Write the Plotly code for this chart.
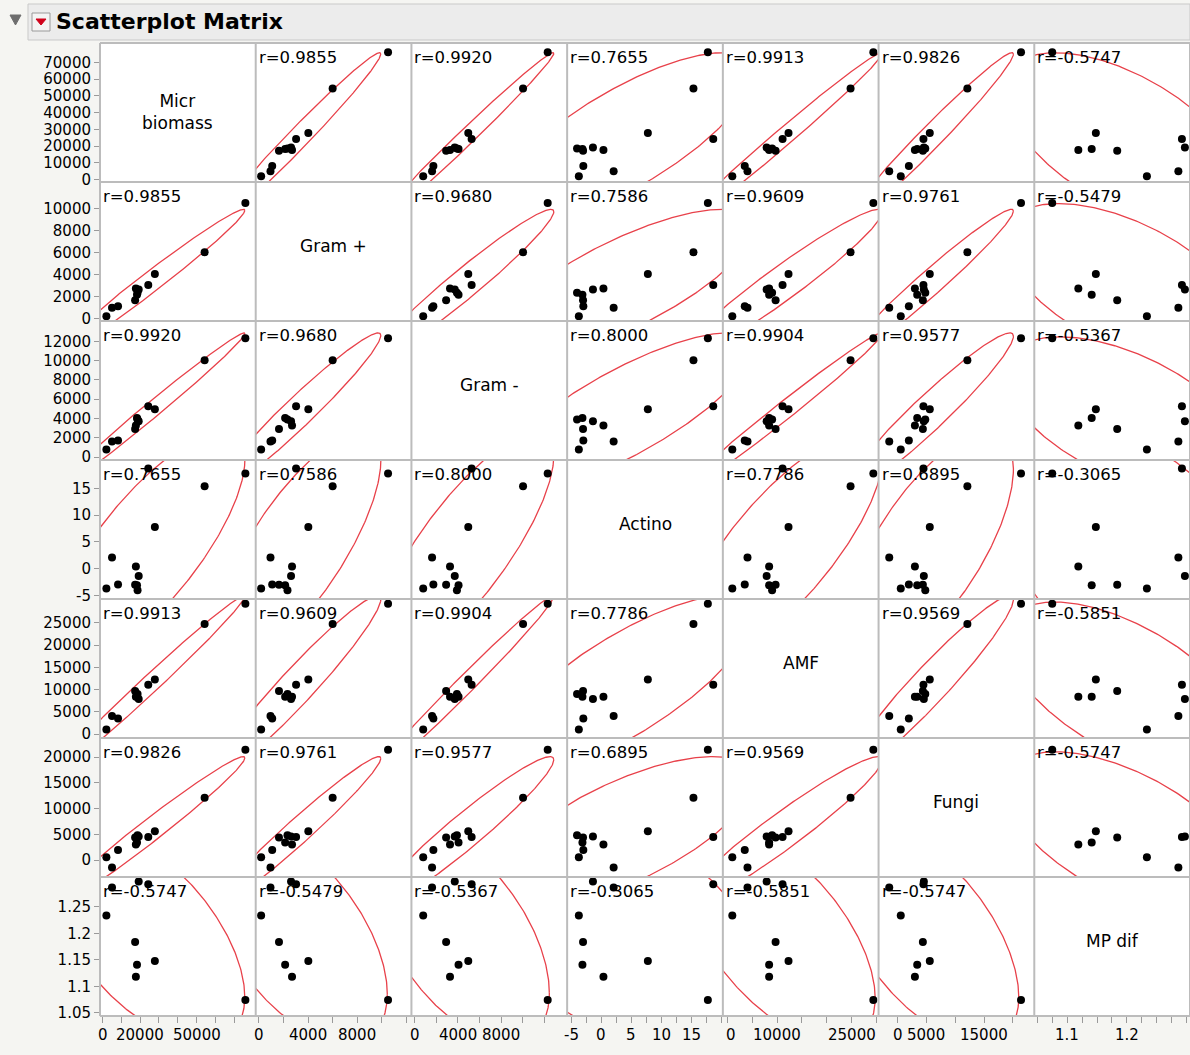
import numpy as np
import plotly.graph_objects as go

# ---- data -------------------------------------------------------------
names = ["Micr biomass", "Gram +", "Gram -", "Actino", "AMF", "Fungi", "MP dif"]

micr_biomass = [2000, 5000, 8200, 17300, 18300, 17700, 18600, 19200, 24300, 27800, 54300, 76000]
gram_pos = [190, 950, 1090, 1640, 2140, 2700, 2330, 2620, 3030, 4025, 6000, 10500]
gram_neg = [780, 1600, 1720, 2900, 4050, 3260, 3900, 3700, 5260, 4950, 10020, 12300]
actino = [-3.7, 2.1, -2.95, -3.0, -3.1, 0.4, -4.0, -1.35, 18.7, 7.8, 15.4, 17.8]
amf = [1000, 4050, 3500, 9700, 8400, 8400, 9000, 7900, 11100, 12300, 24770, 29350]
fungi = [550, -1450, 1950, 4380, 3400, 3000, 4800, 4550, 4480, 5580, 12100, 21400]
mp_dif = [1.234, 1.287, None, 1.184, 1.141, 1.1185, None, 1.298, 1.293, 1.148, None, 1.0745]

# pairwise correlations (upper triangle, variable index pairs)
correlations = {
    (0, 1): 0.9855, (0, 2): 0.9920, (0, 3): 0.7655, (0, 4): 0.9913, (0, 5): 0.9826, (0, 6): -0.5747,
    (1, 2): 0.9680, (1, 3): 0.7586, (1, 4): 0.9609, (1, 5): 0.9761, (1, 6): -0.5479,
    (2, 3): 0.8000, (2, 4): 0.9904, (2, 5): 0.9577, (2, 6): -0.5367,
    (3, 4): 0.7786, (3, 5): 0.6895, (3, 6): -0.3065,
    (4, 5): 0.9569, (4, 6): -0.5851,
    (5, 6): -0.5747,
}

# ---- axis configuration -------------------------------------------------
ranges = [
    [-1400, 81500],
    [-250, 12400],
    [-310, 14100],
    [-5.65, 20.3],
    [-900, 30400],
    [-3300, 23700],
    [1.0443, 1.3066],
]

y_ticks = [
    [0, 10000, 20000, 30000, 40000, 50000, 60000, 70000],
    [0, 2000, 4000, 6000, 8000, 10000],
    [0, 2000, 4000, 6000, 8000, 10000, 12000],
    [-5, 0, 5, 10, 15],
    [0, 5000, 10000, 15000, 20000, 25000],
    [0, 5000, 10000, 15000, 20000],
    [1.05, 1.1, 1.15, 1.2, 1.25],
]
y_ticktext = [
    [str(v) for v in y_ticks[0]],
    [str(v) for v in y_ticks[1]],
    [str(v) for v in y_ticks[2]],
    [str(v) for v in y_ticks[3]],
    [str(v) for v in y_ticks[4]],
    [str(v) for v in y_ticks[5]],
    ["1.05", "1.1", "1.15", "1.2", "1.25"],
]

x_ticks = [
    [0, 10000, 20000, 30000, 40000, 50000, 60000, 70000],
    [0, 2000, 4000, 6000, 8000, 10000, 12000],
    [0, 2000, 4000, 6000, 8000, 10000, 12000],
    [-5, -2.5, 0, 2.5, 5, 7.5, 10, 12.5, 15, 17.5, 20],
    [0, 5000, 10000, 15000, 20000, 25000, 30000],
    [0, 5000, 10000, 15000, 20000],
    [1.05, 1.075, 1.1, 1.125, 1.15, 1.175, 1.2, 1.225, 1.25, 1.275, 1.3],
]
x_labelled = [
    [(0, "0"), (20000, "20000"), (50000, "50000")],
    [(0, "0"), (4000, "4000"), (8000, "8000")],
    [(0, "0"), (4000, "4000"), (8000, "8000")],
    [(-5, "-5"), (0, "0"), (5, "5"), (10, "10"), (15, "15")],
    [(0, "0"), (10000, "10000"), (25000, "25000")],
    [(0, "0"), (5000, "5000"), (15000, "15000")],
    [(1.1, "1.1"), (1.2, "1.2")],
]

# ---- figure geometry (pixels) -------------------------------------------
W, H = 1190, 1055
ML, MR, MT, MB = 100, 0, 43, 39
PW, PH = W - ML - MR, H - MT - MB
NV = len(names)

FONT = "DejaVu Sans"
POINT_COLOR = "black"
ELLIPSE_COLOR = "#e8414a"
BORDER_COLOR = "#bcbcbc"

# bottom labels that are pinned to the left border of their cell
LEFT_PINNED_LABELS = {(4, 0)}


def px_to_paper(px, py):
    return (px - ML) / PW, (MT + PH - py) / PH


def axis_name(prefix, k):
    return prefix if k == 0 else f"{prefix}{k + 1}"


cols = [np.array([np.nan if v is None else v for v in c], dtype=float) for c in
        [micr_biomass, gram_pos, gram_neg, actino, amf, fungi, mp_dif]]

K95 = np.sqrt(-2.0 * np.log(0.05))  # 95% bivariate normal contour


def density_ellipse(xv, yv, r, n=361):
    ok = ~np.isnan(xv) & ~np.isnan(yv)
    x, y = xv[ok], yv[ok]
    mx, my = x.mean(), y.mean()
    sx, sy = x.std(ddof=1), y.std(ddof=1)
    t = np.linspace(0, 2 * np.pi, n)
    ex = mx + K95 * sx * np.cos(t)
    ey = my + K95 * sy * (r * np.cos(t) + np.sqrt(1 - r * r) * np.sin(t))
    return ex, ey


fig = go.Figure()

for i in range(NV):          # row -> y variable
    for j in range(NV):      # column -> x variable
        if i == j:
            continue
        xa, ya = axis_name("x", j), axis_name("y", i)
        r = correlations[(min(i, j), max(i, j))]
        ex, ey = density_ellipse(cols[j], cols[i], r)
        fig.add_trace(go.Scatter(
            x=ex, y=ey, mode="lines", xaxis=xa, yaxis=ya,
            line=dict(color=ELLIPSE_COLOR, width=1.3), hoverinfo="skip",
            showlegend=False,
        ))
        ok = ~np.isnan(cols[j]) & ~np.isnan(cols[i])
        fig.add_trace(go.Scatter(
            x=cols[j][ok], y=cols[i][ok], mode="markers", xaxis=xa, yaxis=ya,
            marker=dict(color=POINT_COLOR, size=8, line=dict(width=0)),
            showlegend=False,
        ))

layout = dict(
    width=W, height=H,
    margin=dict(l=ML, r=MR, t=MT, b=MB, pad=0),
    paper_bgcolor="#f5f5f2",
    plot_bgcolor="white",
    font=dict(family=FONT, color="black"),
    showlegend=False,
)

TICK_SIZE = 15
tick_font = dict(family=FONT, size=TICK_SIZE, color="black")
for k in range(NV):
    # bottom labels are written as annotations below; the axis only draws tick marks
    layout["xaxis" if k == 0 else f"xaxis{k + 1}"] = dict(
        domain=[k / NV, (k + 1) / NV], range=ranges[k], anchor=axis_name("y", NV - 1),
        showgrid=False, zeroline=False, showline=False,
        ticks="outside", ticklen=6, tickwidth=1, tickcolor="#9a9a9a",
        tickmode="array", tickvals=x_ticks[k], showticklabels=False,
        fixedrange=True,
    )
    layout["yaxis" if k == 0 else f"yaxis{k + 1}"] = dict(
        domain=[1 - (k + 1) / NV, 1 - k / NV], range=ranges[k], anchor="x",
        showgrid=False, zeroline=False, showline=False,
        ticks="outside", ticklen=5, tickwidth=1, tickcolor="#9a9a9a",
        tickmode="array", tickvals=y_ticks[k], ticktext=y_ticktext[k],
        tickfont=tick_font, fixedrange=True, ticklabeloverflow="allow",
    )
fig.update_layout(**layout)

shapes = []
# white matrix background
shapes.append(dict(type="rect", xref="paper", yref="paper", x0=0, x1=1, y0=0, y1=1,
                   fillcolor="white", line=dict(width=0), layer="below"))
# cell borders
for k in range(NV + 1):
    shapes.append(dict(type="line", xref="paper", yref="paper", x0=k / NV, x1=k / NV, y0=0, y1=1,
                       line=dict(color=BORDER_COLOR, width=2), layer="above"))
    shapes.append(dict(type="line", xref="paper", yref="paper", x0=0, x1=1, y0=k / NV, y1=k / NV,
                       line=dict(color=BORDER_COLOR, width=2), layer="above"))

# header bar
hx0, hy0 = px_to_paper(28, 4)
hx1, hy1 = px_to_paper(1190, 40)
shapes.append(dict(type="rect", xref="paper", yref="paper", x0=hx0, x1=hx1, y0=hy1, y1=hy0,
                   fillcolor="#ececec", line=dict(color="#c9c9c9", width=1), layer="below"))
# outline menu button
bx0, by0 = px_to_paper(32, 13)
bx1, by1 = px_to_paper(50, 31)
shapes.append(dict(type="rect", xref="paper", yref="paper", x0=bx0, x1=bx1, y0=by1, y1=by0,
                   fillcolor="#f4f4f4", line=dict(color="#9a9a9a", width=1)))
t1 = px_to_paper(36, 19)
t2 = px_to_paper(46, 19)
t3 = px_to_paper(41, 25)
shapes.append(dict(type="path", xref="paper", yref="paper",
                   path=f"M {t1[0]} {t1[1]} L {t2[0]} {t2[1]} L {t3[0]} {t3[1]} Z",
                   fillcolor="#d0021b", line=dict(color="#d0021b", width=1)))
# disclosure triangle
d1 = px_to_paper(10, 15)
d2 = px_to_paper(21, 15)
d3 = px_to_paper(15.5, 25)
shapes.append(dict(type="path", xref="paper", yref="paper",
                   path=f"M {d1[0]} {d1[1]} L {d2[0]} {d2[1]} L {d3[0]} {d3[1]} Z",
                   fillcolor="#6e6e6e", line=dict(color="#6e6e6e", width=1)))

annotations = []
tx, ty = px_to_paper(54, 22)
annotations.append(dict(text="<b>Scatterplot Matrix</b>", xref="paper", yref="paper", x=tx, y=ty,
                        xanchor="left", yanchor="middle", showarrow=False,
                        font=dict(family=FONT, size=22, color="black")))

# bottom tick labels, placed in paper space from each column's range
_, label_y = px_to_paper(0, 1035)
for k in range(NV):
    lo, hi = ranges[k]
    for v, txt in x_labelled[k]:
        fx = (k + (v - lo) / (hi - lo)) / NV
        anchor = "center"
        if (k, v) in LEFT_PINNED_LABELS:
            fx = (k / NV) + 1.0 / PW
            anchor = "left"
        annotations.append(dict(
            text=txt, xref="paper", yref="paper", x=fx, y=label_y,
            xanchor=anchor, yanchor="middle", showarrow=False,
            font=tick_font,
        ))

# correlation labels in the upper-left of each off-diagonal cell
for i in range(NV):
    for j in range(NV):
        if i == j:
            continue
        r = correlations[(min(i, j), max(i, j))]
        annotations.append(dict(
            text=f"r={r:.4f}", xref=f"{axis_name('x', j)} domain", yref=f"{axis_name('y', i)} domain",
            x=0.0, y=1.0, xanchor="left", yanchor="top", xshift=1, yshift=-3, showarrow=False,
            font=dict(family=FONT, size=16.5, color="black"),
        ))

# variable names on the diagonal
for k in range(NV):
    cx = (ML + (k + 0.5) * PW / NV)
    cy = (MT + (k + 0.5) * PH / NV)
    text = names[k].replace(" ", "<br>") if k == 0 else names[k]
    x, y = px_to_paper(cx, cy - (1 if k == 0 else 6))
    annotations.append(dict(text=text, xref="paper", yref="paper", x=x, y=y,
                            xanchor="center", yanchor="middle", showarrow=False,
                            font=dict(family=FONT, size=17, color="black")))

fig.update_layout(shapes=shapes, annotations=annotations)
fig.write_html("out.html")
